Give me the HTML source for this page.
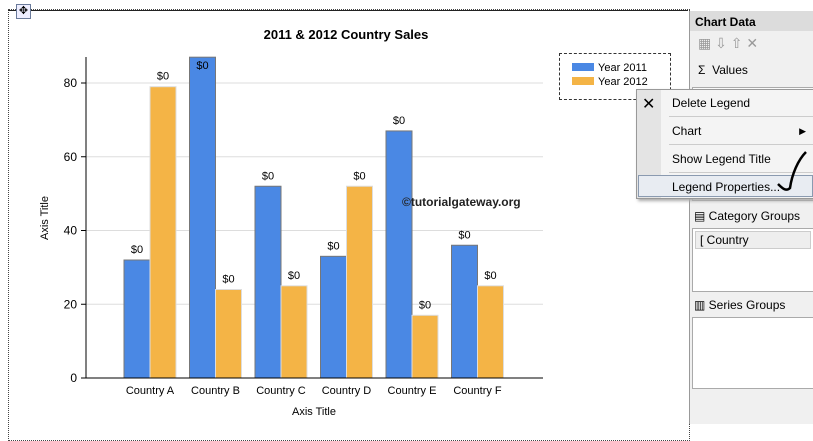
<!DOCTYPE html>
<html><head><meta charset="utf-8"><style>
body{margin:0;width:813px;height:424px;overflow:hidden;background:#fff;font-family:"Liberation Sans",sans-serif;position:relative}
.abs{position:absolute}
.menu div{font-size:12px}
.p{position:absolute;font-size:12px}
</style></head><body>
<div class="abs" style="left:8px;top:9px;width:680px;height:430px;border:1px dotted #444"></div>
<div class="abs" style="left:8px;top:10px;width:680px;border-top:1px solid #222"></div>
<div class="abs" style="left:16px;top:4px;width:13px;height:13px;border:1px solid #6a7a9a;background:#eef;font-size:11px;line-height:13px;text-align:center">✥</div>
<svg class="abs" style="left:0;top:0" width="813" height="424">
<g id="g"></g>
</svg>
<div class="abs" style="left:689px;top:11px;width:124px;height:413px;background:#f0f0f0;border-left:1px solid #999">
<div style="background:#dcdcdc;font-weight:bold;font-size:12px;padding:4px 5px;height:12px">Chart Data</div>
<div class="p" style="left:8px;top:24px;color:#999;font-size:14px">▦ ⇩ ⇧ ✕</div>
<div class="p" style="left:8px;top:52px">Σ&nbsp; Values</div>
<div class="p" style="left:2px;top:76px;width:120px;height:112px;background:#fff;border:1px solid #aaa"></div>
<div class="p" style="left:4px;top:198px">▤ Category Groups</div>
<div class="p" style="left:2px;top:217px;width:120px;height:62px;background:#fff;border:1px solid #aaa"><div style="font-size:12px;margin:2px;background:#eee;border:1px solid #ccc;padding:1px 4px">[ Country</div></div>
<div class="p" style="left:4px;top:287px">▥ Series Groups</div>
<div class="p" style="left:2px;top:306px;width:120px;height:70px;background:#fff;border:1px solid #aaa"></div>
</div>
<div class="abs" style="left:559px;top:53px;width:110px;height:45px;border:1px dashed #333"></div>
<div class="abs" style="left:572px;top:62px;font-size:11px"><span style="display:inline-block;width:22px;height:8px;background:#4a88e4;margin-right:4px"></span>Year 2011</div>
<div class="abs" style="left:572px;top:76px;font-size:11px"><span style="display:inline-block;width:22px;height:8px;background:#f4b446;margin-right:4px"></span>Year 2012</div>
<div class="abs" style="left:402px;top:195px;font-size:12px;font-weight:bold;color:#222">©tutorialgateway.org</div>
<div class="abs menu" style="left:636px;top:89px;width:177px;height:108px;background:#f4f4f4;border:1px solid #999;box-shadow:2px 2px 3px #aaa">
<div style="position:absolute;left:0;top:0;width:24px;height:108px;background:#e4e4e4"></div>
<div style="position:absolute;left:5px;top:4px;font-size:16px">✕</div>
<div style="position:absolute;left:35px;top:6px">Delete Legend</div>
<div style="position:absolute;left:32px;top:26px;right:0;border-top:1px solid #ccc"></div>
<div style="position:absolute;left:35px;top:34px">Chart</div>
<div style="position:absolute;right:8px;top:36px;font-size:9px">▶</div>
<div style="position:absolute;left:32px;top:54px;right:0;border-top:1px solid #ccc"></div>
<div style="position:absolute;left:35px;top:62px">Show Legend Title</div>
<div style="position:absolute;left:32px;top:82px;right:0;border-top:1px solid #ccc"></div>
<div style="position:absolute;left:1px;top:85px;right:1px;height:20px;background:#e8ecf2;border:1px solid #8a9ab0"></div>
<div style="position:absolute;left:35px;top:90px">Legend Properties...</div>
</div>
<svg class="abs" style="left:770px;top:148px" width="40" height="48"><path d="M36 4 C28 12 22 26 20 40 C16 44 12 40 8 36" stroke="#000" stroke-width="2.5" fill="none"/></svg>
<script>
const categories=["Country A","Country B","Country C","Country D","Country E","Country F"];
const s2011=[32,87,52,33,67,36];
const s2012=[79,24,25,52,17,25];
const yTicks=[0,20,40,60,80];
const NS="http://www.w3.org/2000/svg",g=document.getElementById('g');
const x0=86,x1=543,yb=378,yt=57,ppu=(378-83)/80;
const y=v=>yb-v*ppu;
const cw=65.5,cx=i=>150+i*cw,bw=26;
function el(t,a,txt){const e=document.createElementNS(NS,t);for(const k in a)e.setAttribute(k,a[k]);if(txt!=null)e.textContent=txt;g.appendChild(e);return e;}
let e=el('text',{x:346,y:39,'text-anchor':'middle','font-size':13,'font-weight':'bold','font-family':'Liberation Sans'},'2011 & 2012 Country Sales');

yTicks.forEach(t=>{
 if(t>0){const l=el('line',{x1:x0,x2:x1,y1:y(t),y2:y(t),stroke:'#ddd'});}
 el('line',{x1:x0-5,x2:x0,y1:y(t),y2:y(t),stroke:'#000'});
 const tx=el('text',{x:x0-9,y:y(t)+4,'text-anchor':'end','font-size':12,'font-family':'Liberation Sans'},t);
 
});
categories.forEach((c,i)=>{
 [[s2011[i],'#4a88e4',-bw],[s2012[i],'#f4b446',0]].forEach(([v,col,off],k)=>{
  const r=el('rect',{x:cx(i)+off,y:y(v),width:bw,height:yb-y(v),fill:col,stroke:k?'#ddd':'#777','stroke-width':1});
  
  const ly=v>84?y(v)+12:y(v)-7;
  const lt=el('text',{x:cx(i)+off+bw/2,y:ly,'text-anchor':'middle','font-size':11,'font-family':'Liberation Sans'},'$0');
  
 });
 const ct=el('text',{x:cx(i),y:394,'text-anchor':'middle','font-size':11,'font-family':'Liberation Sans'},c);
 
});
el('line',{x1:x0,x2:x0,y1:yt,y2:yb,stroke:'#000'});
el('line',{x1:x0,x2:x1,y1:yb,y2:yb,stroke:'#000'});
e=el('text',{x:314,y:415,'text-anchor':'middle','font-size':11,'font-family':'Liberation Sans'},'Axis Title');

e=el('text',{x:48,y:218,'text-anchor':'middle','font-size':11,'font-family':'Liberation Sans',transform:'rotate(-90 48 218)'},'Axis Title');

</script>
</body></html>
